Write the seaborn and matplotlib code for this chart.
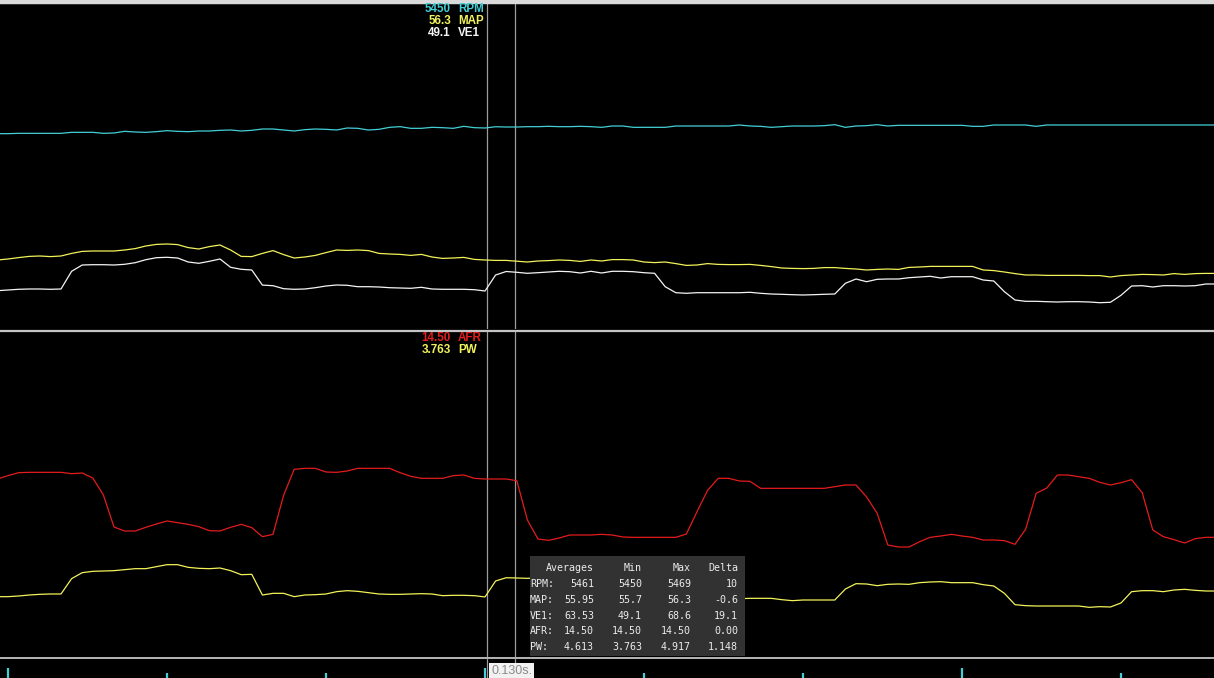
#!/usr/bin/env python3
"""
Datalog viewer: RPM / MAP / VE1 and AFR / PW traces with two cursors.
"""
import numpy as np
import matplotlib.pyplot as plt
import seaborn as sns

# sample times (s), one log record every 0.05 s
time = np.round(np.arange(-0.05, 5.7001, 0.05), 2)

rpm = [5365, 5365, 5370, 5370, 5370, 5370, 5370, 5385, 5385, 5385,
       5370, 5375, 5400, 5390, 5385, 5395, 5410, 5400, 5395, 5405,
       5405, 5415, 5420, 5405, 5415, 5435, 5435, 5420, 5405, 5425,
       5435, 5430, 5420, 5450, 5445, 5420, 5430, 5460, 5470, 5445,
       5445, 5460, 5455, 5445, 5475, 5455, 5450, 5469, 5465, 5465,
       5470, 5470, 5475, 5470, 5470, 5475, 5470, 5460, 5480, 5480,
       5460, 5460, 5460, 5460, 5480, 5480, 5480, 5480, 5480, 5480,
       5495, 5480, 5475, 5460, 5470, 5480, 5480, 5480, 5485, 5500,
       5460, 5480, 5485, 5500, 5480, 5490, 5490, 5490, 5490, 5490,
       5490, 5490, 5475, 5475, 5495, 5495, 5495, 5495, 5475, 5495,
       5495, 5495, 5495, 5495, 5495, 5495, 5495, 5495, 5495, 5495,
       5495, 5495, 5495, 5495, 5495, 5495]

map_kpa = [56.3, 56.8, 57.5, 58.1, 58.3, 58.0, 58.3, 59.6, 60.6, 60.8,
           60.8, 60.8, 61.3, 62.0, 63.3, 64.1, 64.3, 64.0, 62.5, 61.8,
           63.0, 63.8, 61.3, 58.1, 58.0, 59.6, 61.0, 59.0, 57.3, 57.8,
           58.6, 60.0, 61.3, 61.1, 61.3, 61.0, 59.6, 59.3, 59.1, 58.6,
           59.1, 57.8, 57.1, 57.3, 57.6, 56.6, 56.3, 56.1, 56.1, 55.7,
           55.3, 55.8, 56.0, 56.3, 56.1, 55.6, 56.3, 55.8, 56.5, 56.5,
           56.3, 55.3, 55.0, 55.3, 54.5, 53.6, 53.8, 54.5, 54.1, 54.0,
           54.0, 54.1, 53.6, 53.0, 52.3, 52.1, 52.0, 52.1, 52.5, 52.5,
           52.1, 51.8, 51.3, 51.6, 51.8, 51.6, 52.6, 52.8, 53.1, 53.1,
           53.1, 53.1, 53.1, 51.3, 51.0, 50.3, 49.5, 48.8, 48.8, 48.6,
           48.6, 48.6, 48.6, 48.5, 48.5, 47.8, 48.5, 48.8, 49.1, 49.0,
           48.8, 49.5, 49.1, 49.5, 49.6, 49.6]

ve1 = [49.4, 50.1, 50.8, 51.1, 51.1, 50.8, 51.1, 68.8, 75.1, 75.4,
       75.4, 75.1, 75.8, 77.4, 80.4, 82.4, 82.8, 82.1, 78.1, 76.8,
       78.8, 81.1, 72.8, 70.8, 70.1, 55.0, 54.4, 51.4, 50.8, 51.1,
       52.4, 54.1, 55.1, 54.8, 53.4, 53.4, 53.1, 52.4, 52.1, 51.8,
       52.8, 51.1, 50.8, 50.8, 50.8, 50.4, 49.1, 65.1, 68.6, 67.8,
       66.8, 67.4, 68.1, 68.8, 68.4, 67.1, 68.8, 67.1, 68.8, 68.8,
       68.4, 67.4, 66.8, 53.4, 47.4, 46.8, 47.4, 47.4, 47.4, 47.4,
       47.4, 47.8, 46.8, 46.1, 45.8, 45.4, 45.1, 45.4, 45.8, 46.1,
       56.8, 61.1, 58.4, 60.8, 61.1, 61.1, 62.4, 63.1, 63.8, 62.1,
       63.4, 63.4, 63.4, 60.1, 59.1, 48.4, 40.1, 38.8, 38.8, 38.4,
       38.1, 38.4, 38.4, 38.1, 37.4, 37.8, 44.8, 54.1, 54.4, 53.1,
       54.4, 54.4, 54.1, 54.4, 56.1, 56.1]

afr = [14.50, 14.60, 14.69, 14.70, 14.70, 14.70, 14.70, 14.66, 14.68, 14.53,
       14.02, 13.06, 12.94, 12.94, 13.05, 13.15, 13.24, 13.19, 13.14, 13.07,
       12.95, 12.94, 13.05, 13.14, 13.04, 12.77, 12.84, 14.01, 14.79, 14.82,
       14.82, 14.71, 14.70, 14.74, 14.82, 14.82, 14.82, 14.82, 14.69, 14.58,
       14.52, 14.52, 14.52, 14.60, 14.62, 14.52, 14.50, 14.50, 14.50, 14.45,
       13.27, 12.70, 12.66, 12.73, 12.82, 12.82, 12.82, 12.84, 12.82, 12.76,
       12.75, 12.75, 12.75, 12.75, 12.75, 12.85, 13.52, 14.16, 14.52, 14.52,
       14.44, 14.43, 14.22, 14.22, 14.22, 14.22, 14.22, 14.22, 14.22, 14.27,
       14.32, 14.32, 13.96, 13.47, 12.52, 12.46, 12.46, 12.62, 12.75, 12.79,
       12.84, 12.79, 12.75, 12.67, 12.67, 12.65, 12.54, 12.99, 14.07, 14.23,
       14.62, 14.62, 14.57, 14.52, 14.40, 14.32, 14.39, 14.48, 14.09, 12.97,
       12.77, 12.68, 12.58, 12.71, 12.75, 12.75]

pw = [3.78, 3.78, 3.82, 3.88, 3.92, 3.94, 3.94, 4.86, 5.22, 5.30,
      5.32, 5.34, 5.40, 5.46, 5.46, 5.58, 5.70, 5.70, 5.54, 5.48,
      5.46, 5.50, 5.34, 5.10, 5.12, 3.88, 3.98, 3.98, 3.78, 3.88,
      3.90, 3.94, 4.08, 4.14, 4.10, 4.02, 3.94, 3.92, 3.92, 3.94,
      3.96, 3.94, 3.84, 3.86, 3.86, 3.84, 3.763, 4.72, 4.917, 4.90,
      4.88, 4.90, 4.90, 4.92, 4.90, 4.88, 4.92, 4.88, 4.92, 4.92,
      4.90, 4.88, 4.86, 4.18, 3.66, 3.64, 3.66, 3.66, 3.66, 3.66,
      3.66, 3.68, 3.68, 3.68, 3.60, 3.54, 3.58, 3.58, 3.58, 3.58,
      4.24, 4.56, 4.54, 4.44, 4.52, 4.54, 4.52, 4.62, 4.66, 4.68,
      4.62, 4.62, 4.62, 4.50, 4.42, 3.98, 3.30, 3.24, 3.22, 3.22,
      3.22, 3.22, 3.22, 3.14, 3.18, 3.16, 3.40, 4.08, 4.14, 4.14,
      4.08, 4.18, 4.22, 4.16, 4.12, 4.12]

# cursor positions (s) and the values read at the first cursor
cursor_a, cursor_b = 2.26, 2.39
top_labels = ["RPM", "MAP", "VE1"]
top_values = ["5450", "56.3", "49.1"]
bottom_labels = ["AFR", "PW"]
bottom_values = ["14.50", "3.763"]

# statistics between the cursors
stat_rows = ["RPM:", "MAP:", "VE1:", "AFR:", "PW:"]
stat_avg = ["5461", "55.95", "63.53", "14.50", "4.613"]
stat_min = ["5450", "55.7", "49.1", "14.50", "3.763"]
stat_max = ["5469", "56.3", "68.6", "14.50", "4.917"]
stat_delta = ["10", "-0.6", "19.1", "0.00", "1.148"]

W, H = 1214, 678
XLIM = (-0.0377, 5.6887)
CYAN = "#44cfd6"
YELLOW = "#f2f25a"
RED = "#e41c1c"
WHITE = "#f4f4f4"


def fx(px):
    return px / W


def fy(py):
    return 1 - py / H


def panel(top, bottom):
    return [0, fy(bottom), 1, (bottom - top) / H]


sns.set_style("dark")
fig = plt.figure(figsize=(W / 100, H / 100), dpi=100, facecolor="black")


def base_axes(rect):
    ax = fig.add_axes(rect, facecolor="black")
    ax.set_xlim(*XLIM)
    ax.set_ylim(0, 1)
    for s in ax.spines.values():
        s.set_visible(False)
    ax.set_xticks([])
    ax.set_yticks([])
    ax.grid(False)
    for c in (cursor_a, cursor_b):
        ax.axvline(c, color="#9c9c9c", linewidth=0.9)
    return ax


def trace(rect, values, color, ylim):
    ax = fig.add_axes(rect, facecolor="none")
    sns.lineplot(x=time, y=values, ax=ax, color=color, linewidth=0.9,
                 legend=False)
    ax.set_xlim(*XLIM)
    ax.set_ylim(*ylim)
    ax.set_axis_off()
    return ax


# top panel
top_rect = panel(4, 329)
base_axes(top_rect)
trace(top_rect, rpm, CYAN, (2435, 7310))
trace(top_rect, map_kpa, YELLOW, (21.8, 184.3))
trace(top_rect, ve1, WHITE, (11.1, 336.1))

# bottom panel
bot_rect = panel(332, 657)
base_axes(bot_rect)
trace(bot_rect, afr, RED, (9.16, 18.91))
trace(bot_rect, pw, YELLOW, (0.16, 19.66))

# time strip with tick marks every 0.75 s
ax_t = fig.add_axes(panel(659, 678), facecolor="black")
ax_t.set_xlim(*XLIM)
ax_t.set_ylim(0, 19)
ax_t.set_axis_off()
ticks = np.arange(0, 5.7, 0.75)
for i, t in enumerate(ticks):
    ax_t.vlines(t, 0, 10 if i % 3 == 0 else 5, color=CYAN, linewidth=1.6)
for c in (cursor_a, cursor_b):
    ax_t.axvline(c, color="#9c9c9c", linewidth=0.9)

# frame lines
for y0, lw, col in [(1.5, 3.2, "#dadada"), (330.5, 1.6, "#c4c4c4"),
                    (658.2, 1.3, "#c4c4c4")]:
    fig.add_artist(plt.Line2D([0, 1], [fy(y0), fy(y0)], color=col,
                              linewidth=lw, transform=fig.transFigure))

# cursor readouts
lab_font = dict(family="Liberation Sans", fontsize=8.4, fontweight="bold")
for i, (lab, val, col) in enumerate(zip(top_labels, top_values,
                                        [CYAN, YELLOW, WHITE])):
    yy = fy(9.5 + 11.6 * i)
    fig.text(fx(451), yy, val, color=col, ha="right", va="center", **lab_font)
    fig.text(fx(458), yy, lab, color=col, ha="left", va="center", **lab_font)
for i, (lab, val, col) in enumerate(zip(bottom_labels, bottom_values,
                                        [RED, YELLOW])):
    yy = fy(338 + 11.6 * i)
    fig.text(fx(451), yy, val, color=col, ha="right", va="center", **lab_font)
    fig.text(fx(458), yy, lab, color=col, ha="left", va="center", **lab_font)

# statistics box
ax_box = fig.add_axes([fx(530), fy(656), fx(215), 100 / H],
                      facecolor="#323232", zorder=10)
ax_box.set_xticks([])
ax_box.set_yticks([])
for s in ax_box.spines.values():
    s.set_visible(False)

mono = dict(family="DejaVu Sans Mono", fontsize=7.2, color="#ececec",
            va="center", zorder=11)
col_x = [594, 642, 691, 738]
for x, head in zip(col_x, ["Averages", "Min", "Max", "Delta"]):
    fig.text(fx(x), fy(568), head, ha="right", **mono)
for r, name in enumerate(stat_rows):
    yy = fy(584 + 15.8 * r)
    fig.text(fx(530), yy, name, ha="left", **mono)
    for x, col in zip(col_x, [stat_avg, stat_min, stat_max, stat_delta]):
        fig.text(fx(x), yy, col[r], ha="right", **mono)

# cursor delta label
fig.text(fx(491), fy(670.5), "0.130s.", family="Liberation Sans",
         fontsize=9, color="#8a8a8a", ha="left", va="center",
         bbox=dict(facecolor="#f2f2f2", edgecolor="none", pad=1.4))

plt.savefig("out.png", dpi=100, facecolor="black")
